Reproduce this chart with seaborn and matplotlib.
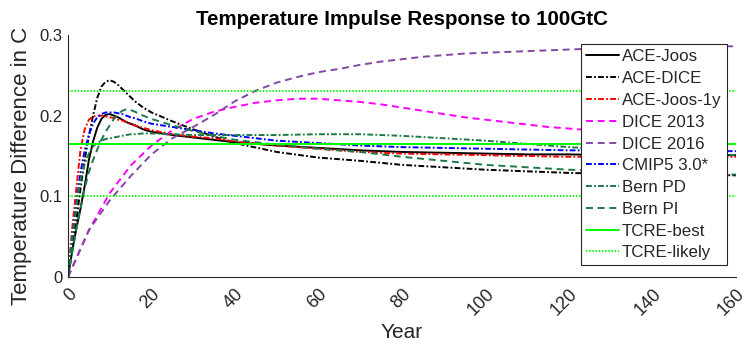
import matplotlib
matplotlib.use("Agg")
import matplotlib.pyplot as plt
import seaborn as sns
import pandas as pd

# ---------------- data ----------------
years = [0, 1, 2, 3, 4, 5, 6, 7, 8, 9, 10, 11, 12, 13, 14, 15, 16, 18, 20,
         25, 30, 35, 40, 50, 60, 70, 80, 90, 100, 110, 120, 130, 140, 150, 160]

ace_joos = [0, 0.032, 0.06, 0.085, 0.113, 0.145, 0.168, 0.185, 0.196, 0.201, 0.202, 0.2, 0.198,
            0.195, 0.192, 0.19, 0.188, 0.183, 0.18, 0.176, 0.173, 0.17, 0.167, 0.163, 0.16,
            0.157, 0.155, 0.154, 0.153, 0.152, 0.152, 0.151, 0.151, 0.151, 0.151]
ace_dice = [0, 0.035, 0.07, 0.11, 0.145, 0.175, 0.2, 0.222, 0.236, 0.242, 0.244, 0.242, 0.238,
            0.233, 0.228, 0.223, 0.218, 0.21, 0.204, 0.193, 0.183, 0.174, 0.166, 0.155, 0.148,
            0.144, 0.139, 0.136, 0.133, 0.131, 0.129, 0.128, 0.127, 0.127, 0.126]
ace_joos_1y = [0, 0.06, 0.11, 0.158, 0.183, 0.195, 0.199, 0.2, 0.2, 0.199, 0.198, 0.197, 0.195,
               0.194, 0.192, 0.19, 0.188, 0.185, 0.182, 0.177, 0.174, 0.172, 0.168, 0.163, 0.159,
               0.155, 0.153, 0.152, 0.151, 0.15, 0.149, 0.149, 0.149, 0.149, 0.149]
cmip5 = [0, 0.045, 0.09, 0.13, 0.157, 0.176, 0.19, 0.198, 0.202, 0.204, 0.204, 0.204, 0.203,
         0.202, 0.2, 0.198, 0.197, 0.193, 0.19, 0.186, 0.182, 0.178, 0.175, 0.169, 0.166,
         0.163, 0.161, 0.16, 0.159, 0.158, 0.157, 0.157, 0.157, 0.156, 0.156]
bern_pd = [0, 0.05, 0.09, 0.12, 0.14, 0.153, 0.162, 0.166, 0.169, 0.171, 0.172, 0.173, 0.174,
           0.175, 0.176, 0.177, 0.177, 0.178, 0.178, 0.177, 0.176, 0.176, 0.176, 0.176, 0.177,
           0.177, 0.175, 0.172, 0.169, 0.165, 0.161, 0.158, 0.155, 0.153, 0.151]
bern_pi = [0, 0.03, 0.06, 0.085, 0.11, 0.13, 0.145, 0.158, 0.17, 0.18, 0.188, 0.196, 0.202,
           0.206, 0.208, 0.207, 0.205, 0.2, 0.196, 0.188, 0.181, 0.175, 0.17, 0.164, 0.159,
           0.155, 0.149, 0.144, 0.139, 0.136, 0.133, 0.131, 0.129, 0.128, 0.127]

dice_years = [0, 5, 10, 15, 20, 25, 30, 35, 40, 45, 50, 55, 60, 65, 70, 75, 80, 85, 90, 95,
              100, 105, 110, 115, 120, 125, 130, 135, 140, 145, 150, 155, 160]
dice_2013 = [0, 0.058, 0.104, 0.138, 0.163, 0.182, 0.196, 0.205, 0.211, 0.216, 0.219, 0.221,
             0.221, 0.219, 0.217, 0.214, 0.21, 0.206, 0.202, 0.198, 0.195, 0.192, 0.189, 0.186,
             0.184, 0.182, 0.18, 0.178, 0.177, 0.176, 0.175]
dice_2016 = [0, 0.058, 0.095, 0.125, 0.152, 0.172, 0.186, 0.201, 0.218, 0.231, 0.241, 0.248,
             0.254, 0.258, 0.263, 0.267, 0.27, 0.273, 0.275, 0.277, 0.278, 0.279, 0.28, 0.281,
             0.282, 0.283, 0.284, 0.284, 0.285, 0.285, 0.285, 0.286, 0.286]

tcre_best = 0.165
tcre_likely = [0.10, 0.23]

x_ticks = [0, 20, 40, 60, 80, 100, 120, 140, 160]
y_ticks = [0, 0.1, 0.2, 0.3]
y_tick_labels = ["0", "0.1", "0.2", "0.3"]

# ---------------- styling ----------------
sns.set_theme(style="white")
plt.rcParams["font.family"] = ["Liberation Sans", "DejaVu Sans"]
plt.rcParams["lines.scale_dashes"] = False

DASH = (0, (5.0, 3.4))
DASHDOT = (0, (4.2, 1.6, 1.3, 1.6))
DOT = (0, (1.0, 1.3))
LW = 1.4

fig = plt.figure(figsize=(7.49, 3.46), dpi=100)
ax = fig.add_axes([68 / 749, 1 - 277 / 346, (736 - 68) / 749, (277 - 35) / 346])

series = [
    ("ACE-Joos", years, ace_joos, "#000000", "-"),
    ("ACE-DICE", years, ace_dice, "#000000", DASHDOT),
    ("ACE-Joos-1y", years, ace_joos_1y, "#ff0000", DASHDOT),
    ("DICE 2013", dice_years[:len(dice_2013)], dice_2013, "#ff00ff", DASH),
    ("DICE 2016", dice_years, dice_2016, "#8446a6", DASH),
    ("CMIP5 3.0*", years, cmip5, "#0000ff", DASHDOT),
    ("Bern PD", years, bern_pd, "#1c7a46", DASHDOT),
    ("Bern PI", years, bern_pi, "#1c7a46", DASH),
]

for name, xs, ys, col, ls in series:
    df = pd.DataFrame({"Year": xs, "T": ys})
    sns.lineplot(data=df, x="Year", y="T", ax=ax, color=col, lw=LW,
                 linestyle=ls, label=name, errorbar=None)

ax.axhline(tcre_best, color="#00ff00", lw=LW, linestyle="-", label="TCRE-best")
for i, v in enumerate(tcre_likely):
    ax.axhline(v, color="#00ff00", lw=LW, linestyle=DOT,
               label="TCRE-likely" if i == 0 else "_nolegend_")

ax.set_xlim(0, 160)
ax.set_ylim(0, 0.3)
ax.set_xticks(x_ticks)
ax.set_xticklabels([str(t) for t in x_ticks], rotation=45, ha="right", va="top",
                   rotation_mode="anchor")
ax.set_yticks(y_ticks)
ax.set_yticklabels(y_tick_labels)

for side in ["top", "right"]:
    ax.spines[side].set_visible(False)
for side in ["left", "bottom"]:
    ax.spines[side].set_color("#262626")
    ax.spines[side].set_linewidth(0.8)

ax.tick_params(axis="both", direction="in", length=5, width=0.8, color="#262626",
               labelsize=12, labelcolor="#262626", pad=4)
ax.tick_params(axis="x", labelsize=13, pad=6)

ax.set_xlabel("Year", fontsize=15, color="#262626", labelpad=3)
ax.set_ylabel("Temperature Difference in C", fontsize=16, color="#262626")
ax.yaxis.set_label_coords(-0.054, 0.46)
ax.set_title("Temperature Impulse Response to 100GtC", fontsize=14.8, fontweight="bold",
             color="black", pad=7)

leg = ax.legend(loc="upper right", fontsize=12.2, frameon=True, fancybox=False,
                edgecolor="#262626", framealpha=1, labelspacing=0.4, handlelength=1.95,
                handletextpad=0.15, borderpad=0.3, borderaxespad=0.55)
leg.get_frame().set_linewidth(0.8)

fig.savefig("out.png", dpi=100)
